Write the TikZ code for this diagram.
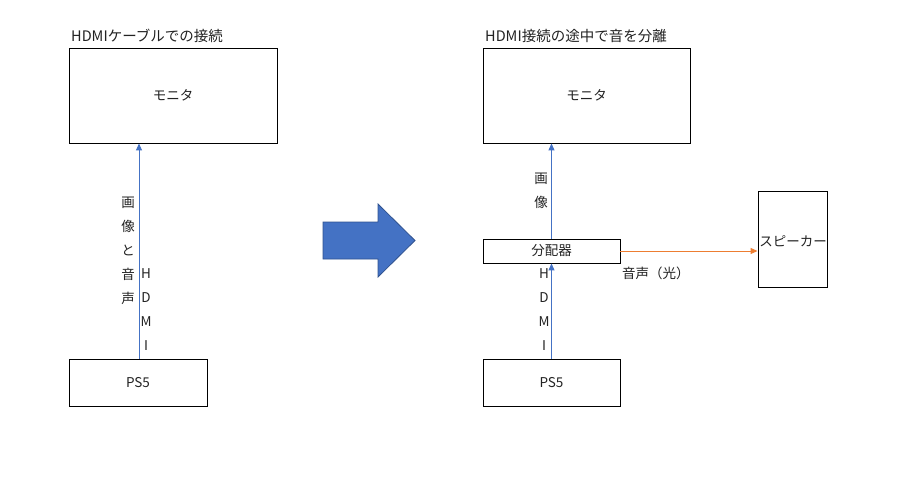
\documentclass[tikz,border=0pt]{standalone}
\usepackage{fontspec}
\setmainfont{Noto Sans CJK JP}
\usetikzlibrary{arrows.meta}
\definecolor{txt}{HTML}{222222}
\definecolor{ablue}{HTML}{4472C4}
\definecolor{ablueedge}{HTML}{2F528F}
\definecolor{aorange}{HTML}{ED7D31}
\begin{document}
\begin{tikzpicture}[x=1pt,y=-1pt,
  every node/.style={font=\fontsize{13.5}{24}\selectfont, text=txt},
  box/.style={draw=black, line width=0.9pt, inner sep=0pt, fill=white},
  ttl/.style={anchor=west, inner sep=0pt, font=\fontsize{14.5}{24}\selectfont},
  vlab/.style={align=center, inner sep=0pt},
  barr/.style={draw=ablue, line width=1pt, -{Triangle[width=6pt,length=7pt]}},
  oarr/.style={draw=aorange, line width=1pt, -{Triangle[width=6pt,length=7pt]}}
]
\useasboundingbox (0,0) rectangle (898,480);
% ---- left ----
\node[ttl] (t1) at (71,36) {HDMIケーブルでの接続};
\node[box, minimum width=208pt, minimum height=95pt] (m1) at (173,95.5) {モニタ};
\node[box, minimum width=138pt, minimum height=47pt] (p1) at (138,382.5) {PS5};
\coordinate (a1) at (139,359);
\draw[barr] (a1) -- (a1 |- m1.south);
\node[vlab] (l1) at (128,250.5) {画\\像\\と\\音\\声};
\node[vlab] (l2) at (146,310) {H\\D\\M\\I};
% ---- big arrow ----
\draw[fill=ablue, draw=ablueedge, line width=0.8pt]
  (323,222) -- (378,222) -- (378,204) -- (415,240.5) -- (378,277) -- (378,259) -- (323,259) -- cycle;
% ---- right ----
\node[ttl] (t2) at (485,36) {HDMI接続の途中で音を分離};
\node[box, minimum width=207pt, minimum height=95pt] (m2) at (586.5,95.5) {モニタ};
\node[box, minimum width=137pt, minimum height=24pt] (sp) at (551.5,251) {分配器};
\node[box, minimum width=137pt, minimum height=47pt] (p2) at (551.5,382.5) {PS5};
\node[box, minimum width=69pt, minimum height=96pt] (spk) at (792.5,239) {};
\node[inner sep=0pt] (spkt) at (793,241) {スピーカー};
\draw[barr] (p2.north) -- (sp.south);
\draw[barr] (sp.north) -- (sp.north |- m2.south);
\draw[oarr] (sp.east) -- (sp.east -| spk.west);
\node[ttl, font=\fontsize{13.5}{24}\selectfont] (l5) at (622,273) {音声（光）};
\node[vlab] (l3) at (541,191) {画\\像};
\node[vlab] (l4) at (544,310) {H\\D\\M\\I};
\end{tikzpicture}
\end{document}
